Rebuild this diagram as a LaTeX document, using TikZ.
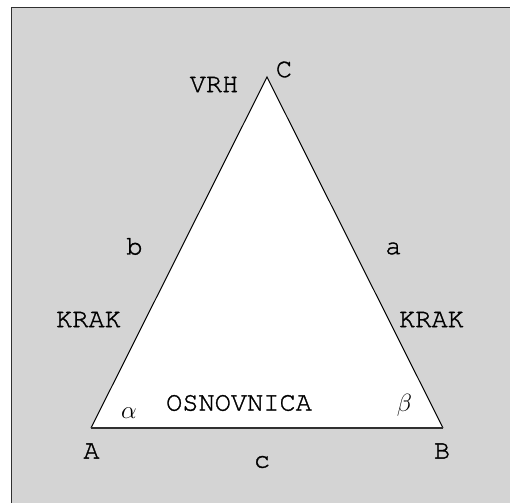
\documentclass[tikz,border=0pt]{standalone}
\usepackage{fontspec}
\newfontfamily\cour[FakeBold=1.2]{texgyrecursor-regular.otf}
\definecolor{panel}{HTML}{D4D4D4}
\definecolor{frame}{HTML}{303030}
\tikzset{
  lbl/.style={inner sep=0pt, anchor=center, font=\cour\fontsize{27}{30}\selectfont},
  grk/.style={inner sep=0pt, anchor=center, font=\fontsize{27}{30}\selectfont},
  side/.style={draw=black, line width=1pt},
  basel/.style={draw=frame, line width=1.8pt}
}
\begin{document}
\begin{tikzpicture}[x=1pt,y=-1pt]
\useasboundingbox (0,0) rectangle (510,502);
\fill[white] (0,0) rectangle (510,502);
\fill[panel] (11.5,7.5) rectangle (512,504);
\draw[frame, line width=1.5pt] (11.5,504) -- (11.5,7.5) -- (512,7.5);
\coordinate (A) at (91,428);
\coordinate (B) at (443,428);
\coordinate (C) at (267,77);
\fill[white] (A) -- (B) -- (C) -- cycle;
\draw[side] (A) -- (C) -- (B);
\draw[basel] (A) -- (B);
\node[lbl] (vrh) at (214,84.5) {VRH};
\node[lbl] (lc) at (284,69.5) {C};
\node[lbl] (la) at (91.5,451) {A};
\node[lbl] (lb) at (442,451) {B};
\node[lbl] (sc) at (262,462) {c};
\node[lbl] (osn) at (239,403) {OSNOVNICA};
\node[lbl] (sb) at (134.5,246.5) {b};
\node[lbl] (sa) at (393.5,248.5) {a};
\node[lbl] (krl) at (88.5,319.5) {KRAK};
\node[lbl] (krr) at (431.5,319.5) {KRAK};
\node[grk] (al) at (129,413) {$\alpha$};
\node[grk, anchor=base] (be) at (404.5,411) {$\beta$};
\end{tikzpicture}
\end{document}
